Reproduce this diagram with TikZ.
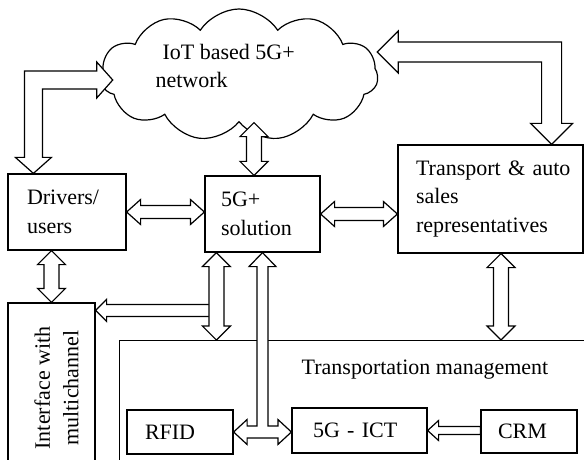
\documentclass[tikz,border=0pt]{standalone}
\usepackage{fontspec}
\setmainfont{Liberation Serif}
\usepackage{graphicx}
\usetikzlibrary{calc,shapes.symbols}

% hollow block arrows; all offsets in pt on the canvas
\newcommand{\hdbl}[2]{% horizontal, both heads, y of #1
  \draw[blk] let \p1=#1, \p2=#2 in
    (\p1) -- ({\x1+7pt},{\y1+6.25pt}) -- ({\x1+7pt},{\y1+3.25pt}) -- ({\x2-7pt},{\y1+3.25pt})
    -- ({\x2-7pt},{\y1+6.25pt}) -- (\x2,\y1) -- ({\x2-7pt},{\y1-6.25pt}) -- ({\x2-7pt},{\y1-3.25pt})
    -- ({\x1+7pt},{\y1-3.25pt}) -- ({\x1+7pt},{\y1-6.25pt}) -- cycle;}
\newcommand{\vdbl}[2]{% vertical, both heads, x of #1
  \draw[blk] let \p1=#1, \p2=#2, \n1={sign(\y2-\y1)} in
    (\p1) -- ({\x1+7pt},{\y1+\n1*7pt}) -- ({\x1+3.75pt},{\y1+\n1*7pt}) -- ({\x1+3.75pt},{\y2-\n1*7pt})
    -- ({\x1+7pt},{\y2-\n1*7pt}) -- (\x1,\y2) -- ({\x1-7pt},{\y2-\n1*7pt}) -- ({\x1-3.75pt},{\y2-\n1*7pt})
    -- ({\x1-3.75pt},{\y1+\n1*7pt}) -- ({\x1-7pt},{\y1+\n1*7pt}) -- cycle;}
\newcommand{\elbow}[5]{% #1 tip at the cloud, #2 tip on the box; shaft half, head half, head length
  \draw[blk] let \p1=#1, \p2=#2, \n1={sign(\x2-\x1)} in
    (\p1) -- ({\x1+\n1*#5},{\y1+#4}) -- ({\x1+\n1*#5},{\y1+#3}) -- ({\x2+\n1*#3},{\y1+#3})
    -- ({\x2+\n1*#3},{\y2+#5}) -- ({\x2+\n1*#4},{\y2+#5}) -- (\p2) -- ({\x2-\n1*#4},{\y2+#5})
    -- ({\x2-\n1*#3},{\y2+#5}) -- ({\x2-\n1*#3},{\y1-#3}) -- ({\x1+\n1*#5},{\y1-#3})
    -- ({\x1+\n1*#5},{\y1-#4}) -- cycle;}
\newcommand{\single}[5]{% #1 tip, #2 tail (to the right); shaft half, head half, head length
  \draw[blk] let \p1=#1, \p2=#2 in
    (\p1) -- ({\x1+#5},{\y1+#4}) -- ({\x1+#5},{\y1+#3}) -- (\x2,{\y1+#3})
    -- (\x2,{\y1-#3}) -- ({\x1+#5},{\y1-#3}) -- ({\x1+#5},{\y1-#4}) -- cycle;}

\begin{document}
\begin{tikzpicture}[x=0.5pt,y=-0.5pt,line width=0.6pt,
  font=\fontsize{11}{14.25}\selectfont,
  box/.style={draw, rectangle, inner ysep=1pt, align=left},
  blk/.style={draw, fill=white, line join=miter}]
  \useasboundingbox (0,0) rectangle (584,460);
  % --- the network cloud
  \node[cloud, draw, cloud puffs=11, cloud puff arc=115, cloud ignores aspect,
        minimum width=139pt, minimum height=66pt, inner sep=0pt] (net) at (239,75) {};
  \node[anchor=west, align=left, inner sep=0pt] (netlbl) at (155,66) {\hspace*{3.5pt}IoT based 5G+\\network};
  % --- boxes
  \node[box, minimum width=59pt, minimum height=38pt, text width=40pt, inner xsep=9.5pt] (drv) at (67,212) {Drivers/\\users};
  \node[box, minimum width=57.5pt, minimum height=38pt, text width=41.5pt, inner xsep=8pt] (sol) at (262.5,214) {5G+\\solution};
  \node[box, minimum width=92.5pt, minimum height=54pt, text width=74.5pt, inner xsep=9pt] (tra) at (490.5,199) {Transport~\&~auto\\sales\\representatives};
  \node[box, minimum width=43.5pt, minimum height=85pt] (ifc) at (51.5,388) {};
  \node[rotate=90, align=center, inner sep=0pt] (ifclbl) at (56.5,388) {Interface with\\multichannel};
  \node[box, minimum width=250pt, minimum height=70pt, anchor=north west] (tm) at (119,340) {};
  \node (tmlbl) at (425,370) {Transportation management};
  \node[box, minimum width=53pt, minimum height=22pt, text width=35pt, inner xsep=9pt] (rfid) at (180,432) {RFID};
  \node[box, minimum width=67.5pt, minimum height=22.5pt, text width=46.5pt, inner xsep=10.5pt] (ict) at (359.5,430.5) {5G - ICT};
  \node[box, minimum width=48pt, minimum height=21.5pt, text width=31pt, inner xsep=8.5pt] (crm) at (529,431.5) {CRM};
  % --- block arrows
  \elbow{($(net.west)+(13,5)$)}{($(drv.north west)+(26,0)$)}{4.5pt}{9pt}{8pt}
  \elbow{($(net.east)+(-1,-23)$)}{($(tra.north east)+(-32,0)$)}{5pt}{10.5pt}{10.5pt}
  \vdbl{($(sol.north)+(-8.5,0)$)}{(net.south)}
  \hdbl{(drv.east)}{(drv.east -| sol.west)}
  \hdbl{(sol.east)}{(sol.east -| tra.west)}
  \vdbl{(ifc.north)}{(drv.south)}
  \single{($(ifc.north east)+(0,8)$)}{($(sol.south west)+(12,0)$)}{3pt}{5.5pt}{5.5pt}
  \vdbl{($(sol.south west)+(12,0)$)}{(tm.north)}
  \vdbl{($(tra.south)+(10.5,0)$)}{(tm.north)}
  \draw[blk] let \p1=(sol.south), \p2=(rfid.east), \p3=(ict.west) in
    (\p1) -- ({\x1+6.75pt},{\y1-7pt}) -- ({\x1+2.75pt},{\y1-7pt}) -- ({\x1+2.75pt},{\y2+3pt})
    -- ({\x3-6.75pt},{\y2+3pt}) -- ({\x3-6.75pt},{\y2+6.25pt}) -- (\x3,\y2) -- ({\x3-6.75pt},{\y2-6.25pt})
    -- ({\x3-6.75pt},{\y2-3pt}) -- ({\x2+6.75pt},{\y2-3pt}) -- ({\x2+6.75pt},{\y2-6.25pt}) -- (\p2)
    -- ({\x2+6.75pt},{\y2+6.25pt}) -- ({\x2+6.75pt},{\y2+3pt}) -- ({\x1-2.75pt},{\y2+3pt})
    -- ({\x1-2.75pt},{\y1-7pt}) -- ({\x1-6.75pt},{\y1-7pt}) -- cycle;
  \single{(ict.east)}{(crm.west)}{2pt}{5pt}{5.5pt}
\end{tikzpicture}
\end{document}
